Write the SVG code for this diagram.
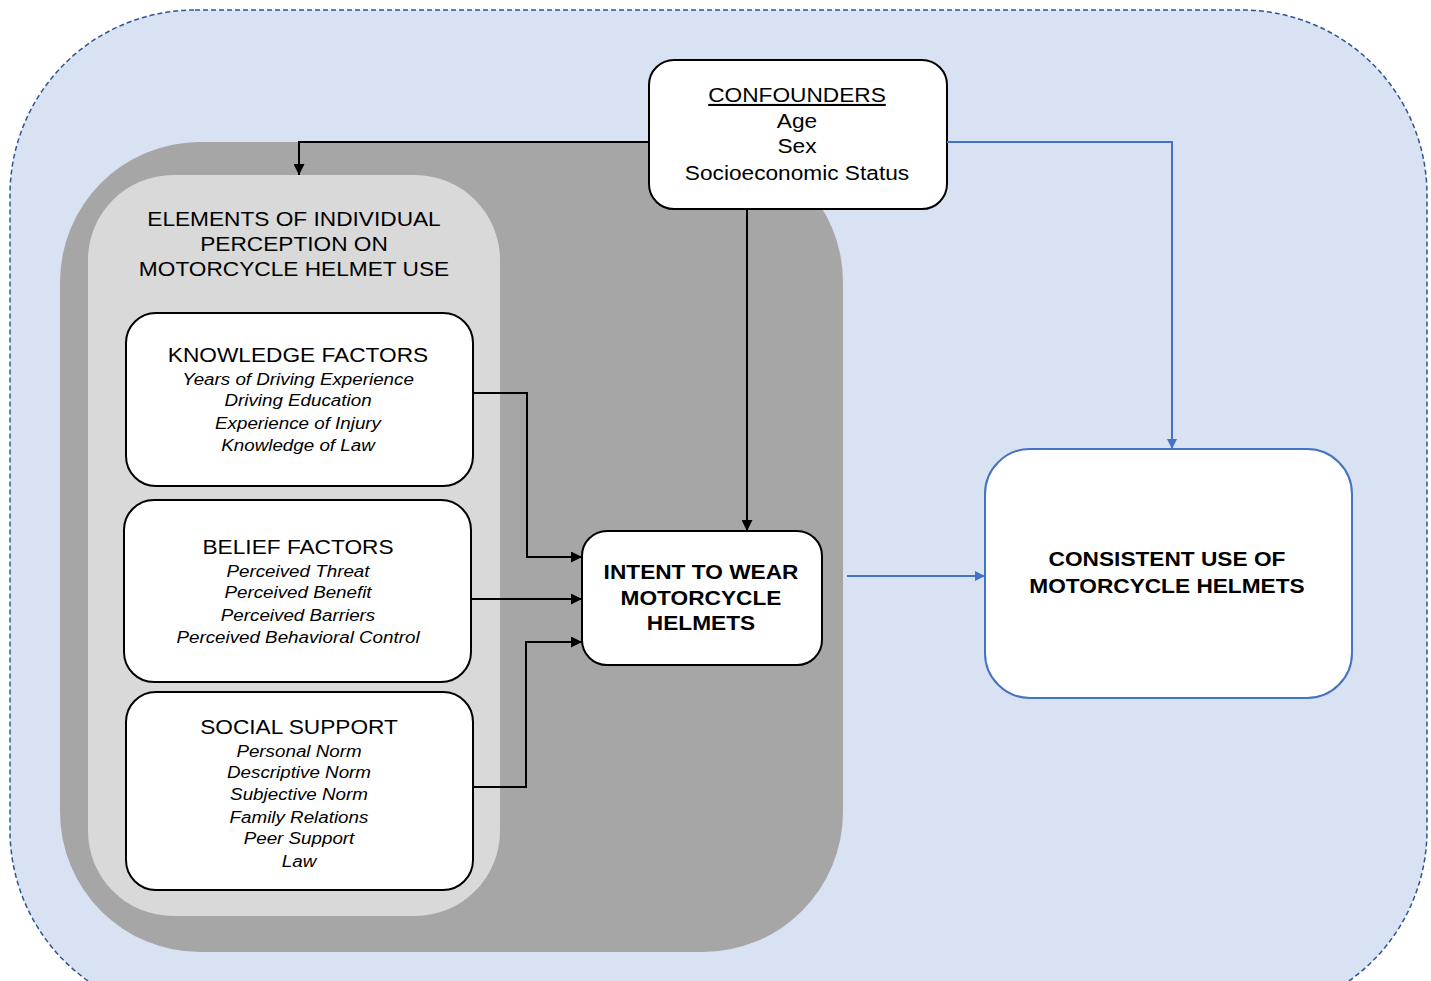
<svg xmlns="http://www.w3.org/2000/svg" width="1431" height="981" viewBox="0 0 1431 981">
<defs>
<style>
.t{font-family:"Liberation Sans",Arial,sans-serif;fill:#000;text-anchor:middle}
.h{font-size:21px}
.i{font-size:17.4px;font-style:italic}
.b{font-size:21px;font-weight:bold}
.box{fill:#fff;stroke:#000;stroke-width:2}
.k{fill:none;stroke:#000;stroke-width:2}
.bl{fill:none;stroke:#4472c4;stroke-width:2}
</style>
<marker id="ab" viewBox="0 0 10 10" refX="10" refY="5" markerWidth="10" markerHeight="10" orient="auto" markerUnits="userSpaceOnUse">
<path d="M0,0 L10,5 L0,10 z" fill="#4472c4"/>
</marker>
<marker id="ak2" viewBox="0 0 10 10" refX="10" refY="5" markerWidth="11" markerHeight="11" orient="auto" markerUnits="userSpaceOnUse">
<path d="M0,0 L10,5 L0,10 z" fill="#000"/>
</marker>
</defs>
<rect width="1431" height="981" fill="#fff"/>
<g id="outer">
<rect x="10" y="10" width="1417" height="1005" rx="185" ry="185" fill="#d9e2f2" stroke="#2f5597" stroke-width="1.5" stroke-dasharray="5,3"/>
</g>
<g id="perception-outer">
<rect x="60" y="142" width="783" height="810" rx="140" ry="140" fill="#a6a6a6"/>
</g>
<g id="perception">
<rect x="88" y="175" width="412" height="741" rx="85" ry="85" fill="#d9d9d9"/>
<g transform="translate(294,0) scale(1.08,1)">
<text class="t h" x="0" y="226">ELEMENTS OF INDIVIDUAL</text>
<text class="t h" x="0" y="251">PERCEPTION ON</text>
<text class="t h" x="0" y="276">MOTORCYCLE HELMET USE</text>
</g>
</g>
<g id="knowledge">
<rect class="box" x="126" y="313" width="347" height="173" rx="30" ry="30"/>
<g transform="translate(298,0) scale(1.08,1)">
<text class="t h" x="0" y="362">KNOWLEDGE FACTORS</text>
<text class="t i" x="0" y="385">Years of Driving Experience</text>
<text class="t i" x="0" y="406">Driving Education</text>
<text class="t i" x="0" y="429">Experience of Injury</text>
<text class="t i" x="0" y="451">Knowledge of Law</text>
</g>
</g>
<g id="belief">
<rect class="box" x="124" y="500" width="347" height="182" rx="30" ry="30"/>
<g transform="translate(298,0) scale(1.08,1)">
<text class="t h" x="0" y="554">BELIEF FACTORS</text>
<text class="t i" x="0" y="577">Perceived Threat</text>
<text class="t i" x="0" y="598">Perceived Benefit</text>
<text class="t i" x="0" y="621">Perceived Barriers</text>
<text class="t i" x="0" y="643">Perceived Behavioral Control</text>
</g>
</g>
<g id="social">
<rect class="box" x="126" y="692" width="347" height="198" rx="30" ry="30"/>
<g transform="translate(299,0) scale(1.08,1)">
<text class="t h" x="0" y="734">SOCIAL SUPPORT</text>
<text class="t i" x="0" y="757">Personal Norm</text>
<text class="t i" x="0" y="778">Descriptive Norm</text>
<text class="t i" x="0" y="800">Subjective Norm</text>
<text class="t i" x="0" y="823">Family Relations</text>
<text class="t i" x="0" y="844">Peer Support</text>
<text class="t i" x="0" y="867">Law</text>
</g>
</g>
<g id="intent">
<rect class="box" x="582" y="531" width="240" height="134" rx="25" ry="25"/>
<g transform="translate(701,0) scale(1.08,1)">
<text class="t b" x="0" y="579">INTENT TO WEAR</text>
<text class="t b" x="0" y="605">MOTORCYCLE</text>
<text class="t b" x="0" y="630">HELMETS</text>
</g>
</g>
<g id="confounders">
<rect class="box" x="649" y="60" width="298" height="149" rx="25" ry="25"/>
<g transform="translate(797,0) scale(1.08,1)">
<text class="t h" x="0" y="102" text-decoration="underline">CONFOUNDERS</text>
<text class="t h" x="0" y="128">Age</text>
<text class="t h" x="0" y="153">Sex</text>
<text class="t h" x="0" y="180">Socioeconomic Status</text>
</g>
</g>
<g id="consistent">
<rect x="985" y="449" width="367" height="249" rx="45" ry="45" fill="#fff" stroke="#4472c4" stroke-width="2"/>
<g transform="translate(1167,0) scale(1.08,1)">
<text class="t b" x="0" y="566">CONSISTENT USE OF</text>
<text class="t b" x="0" y="593">MOTORCYCLE HELMETS</text>
</g>
</g>
<g id="connectors">
<polyline class="k" points="649,142 299,142 299,175" marker-end="url(#ak2)"/>
<polyline class="k" points="747,209 747,531" marker-end="url(#ak2)"/>
<polyline class="k" points="473,393 527,393 527,557 582,557" marker-end="url(#ak2)"/>
<polyline class="k" points="471,599 582,599" marker-end="url(#ak2)"/>
<polyline class="k" points="473,787 526,787 526,642 582,642" marker-end="url(#ak2)"/>
<polyline class="bl" points="947,142 1172,142 1172,449" marker-end="url(#ab)"/>
<polyline class="bl" points="847,576 985,576" marker-end="url(#ab)"/>
</g>
</svg>
